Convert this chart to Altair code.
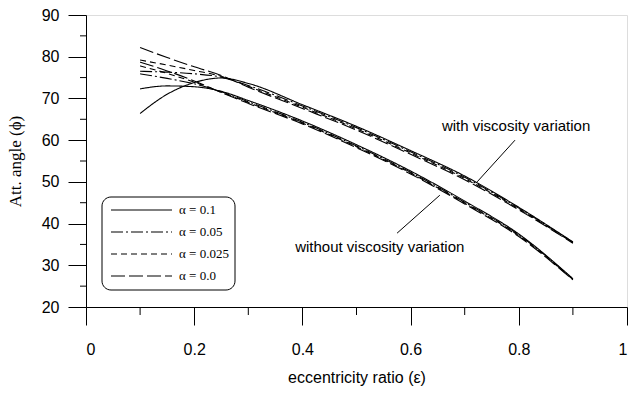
import altair as alt
import pandas as pd

# ---- data ----
ecc = [0.1, 0.15, 0.2, 0.25, 0.3, 0.4, 0.5, 0.6, 0.7, 0.8, 0.9]

with_a01 = [66.4, 71.0, 73.8, 74.9, 73.6, 68.5, 63.3, 57.5, 51.4, 43.9, 35.6]
with_a005 = [76.5, 76.3, 75.9, 75.1, 73.1, 68.2, 63.0, 57.2, 51.1, 43.7, 35.5]
with_a0025 = [79.2, 78.0, 76.7, 75.3, 72.9, 67.9, 62.7, 56.9, 50.8, 43.5, 35.4]
with_a0 = [82.2, 79.8, 77.6, 75.5, 72.7, 67.6, 62.4, 56.6, 50.5, 43.3, 35.3]

without_a01 = [72.3, 73.0, 72.8, 71.7, 69.5, 64.6, 58.9, 52.6, 45.4, 37.5, 26.8]
without_a005 = [75.9, 74.8, 73.5, 71.6, 69.2, 64.3, 58.6, 52.3, 45.1, 37.3, 26.7]
without_a0025 = [77.8, 76.0, 73.9, 71.5, 69.0, 64.1, 58.4, 52.1, 44.9, 37.1, 26.6]
without_a0 = [78.7, 76.6, 74.2, 71.4, 68.8, 63.9, 58.2, 51.9, 44.7, 36.9, 26.5]

alpha_labels = ["α = 0.1", "α = 0.05", "α = 0.025", "α = 0.0"]
dash_styles = [[1, 0], [12, 3, 2, 3], [6, 4], [14, 4]]

x_minor = [0.1, 0.3, 0.5, 0.7, 0.9]
y_minor = [25, 35, 45, 55, 65, 75, 85]

ann_text = ["with viscosity variation", "without viscosity variation"]
ann_x = [0.795, 0.543]
ann_y = [63.4, 34.4]
lead_x1 = [0.793, 0.575]
lead_y1 = [60.0, 37.7]
lead_x2 = [0.723, 0.654]
lead_y2 = [50.0, 46.8]

# ---- build table ----
rows = []
series = [
    ("with", alpha_labels[0], with_a01), ("with", alpha_labels[1], with_a005),
    ("with", alpha_labels[2], with_a0025), ("with", alpha_labels[3], with_a0),
    ("without", alpha_labels[0], without_a01), ("without", alpha_labels[1], without_a005),
    ("without", alpha_labels[2], without_a0025), ("without", alpha_labels[3], without_a0),
]
for grp, lab, vals in series:
    for e, v in zip(ecc, vals):
        rows.append({"e": e, "phi": v, "alpha": lab, "key": grp + lab})
df = pd.DataFrame(rows)

SANS = "Liberation Sans"
SERIF = "Liberation Serif"

xscale = alt.Scale(domain=[0, 1], nice=False)
yscale = alt.Scale(domain=[20, 90], nice=False)

xaxis = alt.Axis(values=[0, 0.2, 0.4, 0.6, 0.8, 1], format="~g", tickSize=18,
                 labelPadding=16, labelFont=SANS, labelFontSize=16, labelColor="black",
                 title="eccentricity ratio (ε)", titleFont=SANS, titleFontSize=16,
                 titleFontWeight="normal", titleColor="black", titlePadding=12,
                 grid=False, domainColor="black", tickColor="black")
yaxis = alt.Axis(values=[20, 30, 40, 50, 60, 70, 80, 90], tickSize=18,
                 labelPadding=9, labelFont=SANS, labelFontSize=16, labelColor="black",
                 title="Att. angle (ϕ)", titleFont=SERIF, titleFontSize=17,
                 titleFontWeight="normal", titleColor="black", titlePadding=17,
                 grid=False, domainColor="black", tickColor="black")

lines = alt.Chart(df).mark_line(color="black", strokeWidth=1.1, interpolate="monotone").encode(
    x=alt.X("e:Q", scale=xscale, axis=xaxis),
    y=alt.Y("phi:Q", scale=yscale, axis=yaxis),
    strokeDash=alt.StrokeDash(
        "alpha:N",
        scale=alt.Scale(domain=alpha_labels, range=dash_styles),
        legend=None,
    ),
    detail="key:N",
)

xm = alt.Chart(pd.DataFrame({"v": x_minor})).mark_rule(color="black").encode(
    x=alt.X("v:Q", scale=xscale), y=alt.value(292), y2=alt.value(300))
ym = alt.Chart(pd.DataFrame({"v": y_minor})).mark_rule(color="black").encode(
    y=alt.Y("v:Q", scale=yscale), x=alt.value(-6), x2=alt.value(0))

ann_df = pd.DataFrame({"t": ann_text, "x": ann_x, "y": ann_y})
texts = alt.Chart(ann_df).mark_text(font=SANS, fontSize=15, color="black").encode(
    x=alt.X("x:Q", scale=xscale), y=alt.Y("y:Q", scale=yscale), text="t:N")

lead_df = pd.DataFrame({"x1": lead_x1, "y1": lead_y1, "x2": lead_x2, "y2": lead_y2})
leads = alt.Chart(lead_df).mark_rule(color="black", strokeWidth=1).encode(
    x=alt.X("x1:Q", scale=xscale), y=alt.Y("y1:Q", scale=yscale),
    x2="x2:Q", y2="y2:Q")

# ---- hand-drawn legend box (styling positions in pixels) ----
one = pd.DataFrame({"k": [0]})
legend_layers = [
    alt.Chart(one).mark_rect(fill="white", stroke="black", strokeWidth=1, cornerRadius=9).encode(
        x=alt.value(16), x2=alt.value(149), y=alt.value(182), y2=alt.value(275))
]
row_y = [195, 217, 239, 261]
for lab, dash, yy in zip(alpha_labels, dash_styles, row_y):
    legend_layers.append(
        alt.Chart(one).mark_rule(color="black", strokeWidth=1.1, strokeDash=dash).encode(
            x=alt.value(25), x2=alt.value(86), y=alt.value(yy)))
    legend_layers.append(
        alt.Chart(one).mark_text(text=lab, font=SERIF, fontSize=13, color="black",
                                 align="left", baseline="middle").encode(
            x=alt.value(93), y=alt.value(yy)))

chart = alt.layer(lines, xm, ym, leads, texts, *legend_layers).properties(
    width=541, height=292,
    padding={"left": 86, "top": 15, "right": 3, "bottom": 87},
    autosize=alt.AutoSizeParams(type="none"),
).configure_view(stroke="black", strokeWidth=1).configure(background="white")

chart.save("out.html", embed_options={"renderer": "svg", "actions": False})
